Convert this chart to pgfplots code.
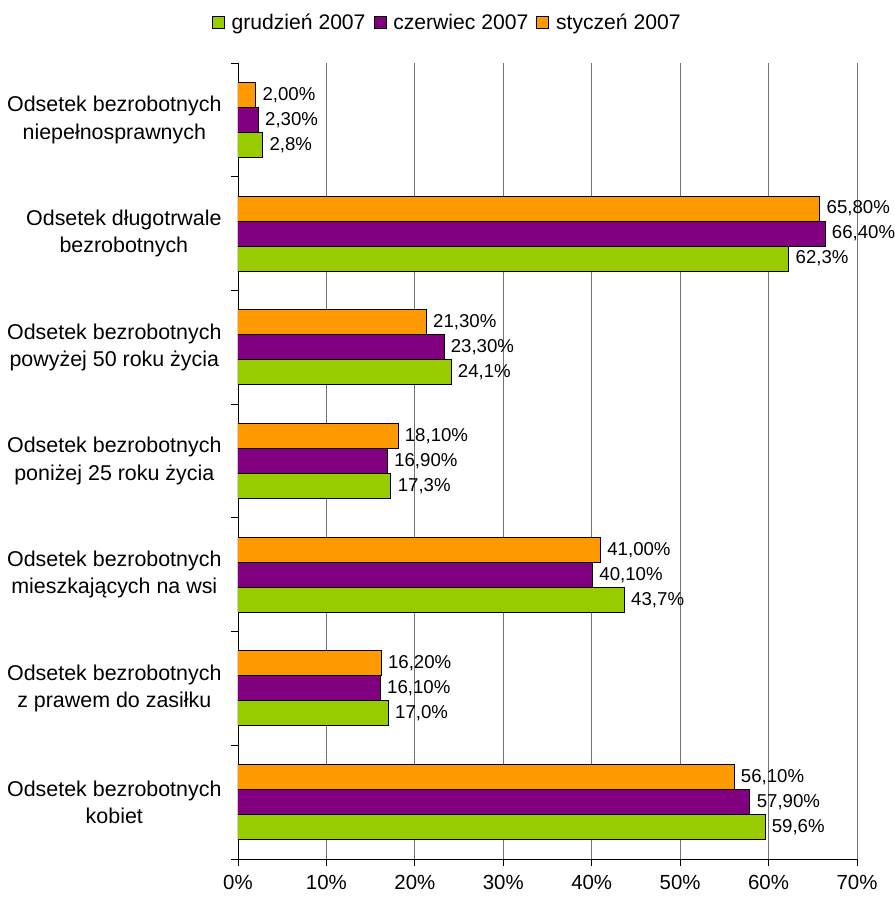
\documentclass[border=0pt]{standalone}
\usepackage{fontspec}
\setmainfont{Liberation Sans}
\usepackage{pgfplots}
\pgfplotsset{compat=1.18}
\usetikzlibrary{calc}
\definecolor{cgreen}{HTML}{99CC00}
\definecolor{cpurple}{HTML}{800080}
\definecolor{corange}{HTML}{FF9900}
\begin{document}
\begin{tikzpicture}
\begin{axis}[
  name=ax,
  scale only axis,
  width=619bp, height=796bp,
  xmin=0, xmax=70,
  ymin=-0.5, ymax=6.5,
  /pgf/number format/assume math mode=true,
  axis x line*=bottom,
  axis y line*=left,
  axis line style={black, line width=0.9pt},
  xtick={0,10,...,70},
  xticklabel={\pgfmathprintnumber{\tick}\%},
  xmajorgrids,
  major grid style={gray!90!black, line width=0.9pt},
  ytick={0,...,6},
  yticklabels={{Odsetek bezrobotnych\\kobiet},{Odsetek bezrobotnych\\z prawem do zasiłku},{Odsetek bezrobotnych\\mieszkających na wsi},{Odsetek bezrobotnych\\poniżej 25 roku życia},{Odsetek bezrobotnych\\powyżej 50 roku życia},{Odsetek długotrwale\\bezrobotnych},{Odsetek bezrobotnych\\niepełnosprawnych}},
  yticklabel style={align=center, font=\fontsize{21.5}{27.5}\selectfont, xshift=-6bp},
  xticklabel style={font=\fontsize{20.5}{24}\selectfont, yshift=-6bp},
  y tick style={draw=none},
  minor ytick={-0.5,0.5,...,6.5},
  minor y tick style={draw=black, line width=0.9pt},
  minor tick length=7bp,
  major tick length=7bp,
  x tick style={black, line width=0.9pt},
  tick align=outside,
  xbar,
  bar width=0.22,
  every node near coord/.append style={font=\fontsize{18.7}{22}\selectfont, anchor=west, xshift=3bp},
  legend columns=3,
  legend style={at={(0.338,1.0513)}, anchor=center, draw=none, font=\fontsize{21.2}{24}\selectfont,
    /tikz/every odd column/.append style={column sep=5bp},
    /tikz/every even column/.append style={column sep=6bp}},
  legend image code/.code={\draw[#1,draw=black,line width=0.8pt] (0bp,-6bp) rectangle (12bp,6bp);},
]
\addplot[fill=cgreen, draw=black, line width=1pt, bar shift=-0.22,
  nodes near coords={\pgfmathprintnumber[fixed,fixed zerofill,precision=1,use comma]{\pgfplotspointmeta}\%}]
  coordinates {(59.6,0) (17.0,1) (43.7,2) (17.3,3) (24.1,4) (62.3,5) (2.8,6)};
\addlegendentry{grudzień 2007}
\addplot[fill=cpurple, draw=black, line width=1pt, bar shift=0,
  nodes near coords={\pgfmathprintnumber[fixed,fixed zerofill,precision=2,use comma]{\pgfplotspointmeta}\%}]
  coordinates {(57.9,0) (16.1,1) (40.1,2) (16.9,3) (23.3,4) (66.4,5) (2.3,6)};
\addlegendentry{czerwiec 2007}
\addplot[fill=corange, draw=black, line width=1pt, bar shift=0.22,
  nodes near coords={\pgfmathprintnumber[fixed,fixed zerofill,precision=2,use comma]{\pgfplotspointmeta}\%}]
  coordinates {(56.1,0) (16.2,1) (41.0,2) (18.1,3) (21.3,4) (65.8,5) (2.0,6)};
\addlegendentry{styczeń 2007}
\end{axis}
\pgfresetboundingbox
\path[use as bounding box] ($(ax.south west)+(-238bp,-41bp)$) rectangle ++(895bp,900bp);
\end{tikzpicture}
\end{document}
